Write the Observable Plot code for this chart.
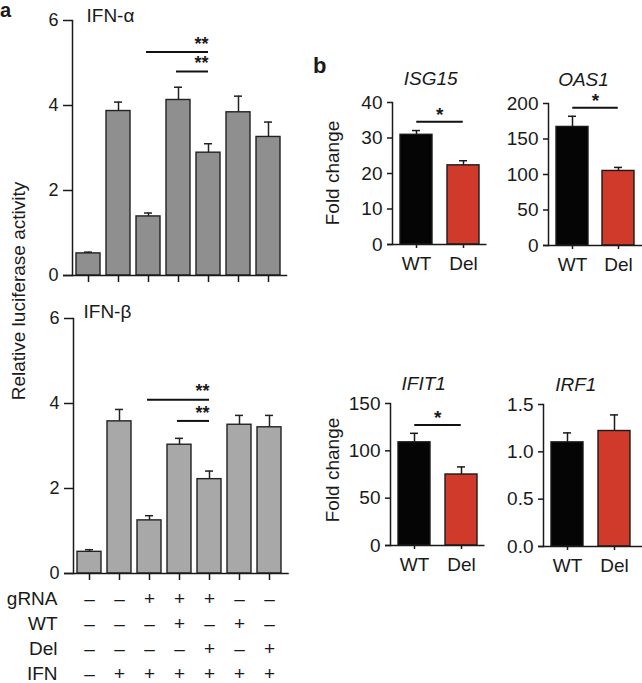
<!DOCTYPE html>
<html><head><meta charset="utf-8">
<script src="https://cdn.jsdelivr.net/npm/d3@7"></script>
<script src="https://cdn.jsdelivr.net/npm/@observablehq/plot@0.6"></script>
<style>
body{margin:0;background:#fff;}
#root{position:relative;width:642px;height:683px;overflow:hidden;font-family:"Liberation Sans",Arial,sans-serif;color:#1a1a1a;}
.abs{position:absolute;}
.lbl{position:absolute;white-space:nowrap;line-height:1;font-family:"Liberation Sans",Arial,sans-serif;color:#1a1a1a;}
.rot{transform:translate(-50%,-50%) rotate(-90deg);}
</style></head><body><div id="root"></div>
<script>
// ---- Panel a data ----
const conditions = ["c1","c2","c3","c4","c5","c6","c7"];
const ifnAlpha    = [0.52, 3.87, 1.39, 4.13, 2.89, 3.84, 3.26];
const ifnAlphaErr = [0.03, 0.21, 0.08, 0.30, 0.21, 0.38, 0.35];
const ifnBeta     = [0.51, 3.58, 1.25, 3.03, 2.22, 3.50, 3.44];
const ifnBetaErr  = [0.05, 0.28, 0.11, 0.15, 0.19, 0.22, 0.28];
const sigFrom = [2, 3];          // index of first compared condition
const sigTo   = [4, 4];          // index of second compared condition
const sigAlphaY = [5.26, 4.80];
const sigBetaY  = [4.09, 3.59];
const sigLabelA = "**";
const yTicksA = [0, 2, 4, 6];
const rowLabels = ["gRNA", "WT", "Del", "IFN"];
const rowGRNA = ["–","–","+","+","+","–","–"];
const rowWT   = ["–","–","–","+","–","+","–"];
const rowDel  = ["–","–","–","–","+","–","+"];
const rowIFN  = ["–","+","+","+","+","+","+"];

// ---- Panel b data ----
const groups = ["WT", "Del"];
const groupColors = ["#050505", "#d03a2b"];
const isg15 = [30.9, 22.3],  isg15Err = [1.2, 1.3];
const oas1  = [167, 105],    oas1Err  = [15, 5];
const ifit1 = [109, 75],     ifit1Err = [9.5, 8];
const irf1  = [1.10, 1.22],  irf1Err  = [0.10, 0.17];
const ticksISG15 = [0, 10, 20, 30, 40];
const ticksOAS1  = [0, 50, 100, 150, 200];
const ticksIFIT1 = [0, 50, 100, 150];
const ticksIRF1  = [0, 0.5, 1.0, 1.5];

const root = document.getElementById("root");
const FONT = "'Liberation Sans', Arial, sans-serif";

function place(node, left, top, width) {
  const d = document.createElement("div");
  d.className = "abs";
  d.style.left = left + "px"; d.style.top = top + "px"; d.style.width = width + "px";
  d.appendChild(node);
  root.appendChild(d);
}
function label(text, left, top, size, extra) {
  const d = document.createElement("div");
  d.className = "lbl";
  d.textContent = text;
  d.style.left = left + "px"; d.style.top = top + "px"; d.style.fontSize = size + "px";
  Object.assign(d.style, extra || {});
  root.appendChild(d);
  return d;
}

const plotStyle = {fontFamily: FONT, fontSize: "18px", color: "#1a1a1a", background: "transparent", overflow: "visible"};

function panelA({values, errs, fill, marginLeft, paddingOuter, step, sigY, title, titleDx, titleDy}) {
  const data = conditions.map((c, i) => ({c, v: values[i], hi: values[i] + errs[i]}));
  const sig = sigFrom.map((f, i) => ({x1: conditions[f], x2: conditions[sigTo[i]], y: sigY[i], t: sigLabelA}));
  const width = 300;
  const rangeW = step * (conditions.length - 0.205 + 2 * paddingOuter);
  return Plot.plot({
    width, height: 290, marginTop: 20, marginBottom: 15, marginLeft,
    marginRight: width - marginLeft - rangeW,
    style: plotStyle,
    x: {domain: conditions, paddingInner: 0.205, paddingOuter, axis: null},
    y: {domain: [0, 6], axis: null},
    marks: [
      Plot.barY(data, {x: "c", y: "v", fill, stroke: "#222", strokeWidth: 1.4}),
      Plot.ruleX(data, {x: "c", y1: "v", y2: "hi", stroke: "#222", strokeWidth: 1.5}),
      Plot.tickY(data, {x: "c", y: "hi", insetLeft: 8, insetRight: 8, stroke: "#222", strokeWidth: 1.5}),
      Plot.ruleY(sig, {x1: "x1", x2: "x2", y: "y", insetLeft: 10, insetRight: 12, stroke: "#111", strokeWidth: 2}),
      Plot.text(sig, {x: "x2", y: "y", text: "t", textAnchor: "end", dy: -8, fontSize: 18, fontWeight: "bold"}),
      Plot.axisY({ticks: yTicksA, tickFormat: "d", tickSize: 9, tickPadding: 5, fontSize: 18, strokeWidth: 1.5, label: null}),
      Plot.axisX({tickSize: 7, tickFormat: () => "", strokeWidth: 1.5, label: null}),
      Plot.frame({anchor: "left", strokeWidth: 1.5}),
      Plot.ruleY([0], {insetLeft: -9, insetRight: -4, strokeWidth: 1.5}),
      Plot.text([title], {frameAnchor: "top-left", textAnchor: "start", lineAnchor: "middle", dx: titleDx, dy: titleDy, fontSize: 19})
    ]
  });
}

function tableA({marginLeft, paddingOuter, step}) {
  const rows = [rowGRNA, rowWT, rowDel, rowIFN];
  const data = [];
  rows.forEach((r, ri) => r.forEach((s, ci) => data.push({row: rowLabels[ri], c: conditions[ci], s})));
  const width = 300;
  const rangeW = step * (conditions.length - 0.205 + 2 * paddingOuter);
  return Plot.plot({
    width, height: 99, marginTop: 13, marginBottom: 8.5, marginLeft,
    marginRight: width - marginLeft - rangeW,
    style: plotStyle,
    x: {domain: conditions, paddingInner: 0.205, paddingOuter, axis: null},
    y: {type: "point", domain: rowLabels, padding: 0, axis: null},
    marks: [
      Plot.text(data, {x: "c", y: "row", text: "s", fontSize: 19}),
      Plot.axisY({tickSize: 0, tickPadding: 16, fontSize: 19, label: null})
    ]
  });
}

function panelB({gene, values, errs, ticks, fmt, width, marginLeft, sigY, titleDx, titleDy, xInsetRight}) {
  const data = groups.map((g, i) => ({g, v: values[i], hi: values[i] + errs[i], f: groupColors[i]}));
  const rangeW = 94.5;
  const marks = [
    Plot.barY(data, {x: "g", y: "v", fill: "f", stroke: "#1a1a1a", strokeWidth: 1.4}),
    Plot.ruleX(data, {x: "g", y1: "v", y2: "hi", stroke: "#1a1a1a", strokeWidth: 1.5}),
    Plot.tickY(data, {x: "g", y: "hi", insetLeft: 12, insetRight: 12, stroke: "#1a1a1a", strokeWidth: 1.5}),
    Plot.axisY({ticks, tickFormat: fmt, tickSize: 5, tickPadding: 5, fontSize: 19, strokeWidth: 1.5, label: null}),
    Plot.axisX({tickSize: 4, tickPadding: 8, fontSize: 19, strokeWidth: 1.5, label: null}),
    Plot.frame({anchor: "left", strokeWidth: 1.5}),
    Plot.ruleY([0], {insetLeft: -5, insetRight: xInsetRight, strokeWidth: 1.5}),
    Plot.text([gene], {frameAnchor: "top", lineAnchor: "middle", dx: titleDx, dy: titleDy, fontStyle: "italic", fontSize: 19})
  ];
  if (sigY != null) {
    marks.push(Plot.ruleY([{y: sigY}], {x1: () => groups[0], x2: () => groups[1], y: "y", insetLeft: 16.25, insetRight: 16.25, stroke: "#111", strokeWidth: 2}));
    marks.push(Plot.text([{y: sigY}], {y: "y", text: () => "*", dy: -7, fontSize: 19, fontWeight: "bold"}));
  }
  return Plot.plot({
    width, height: 220, marginTop: 42, marginBottom: 36, marginLeft,
    marginRight: Math.max(0, width - marginLeft - rangeW),
    style: plotStyle,
    color: {type: "identity"},
    x: {domain: groups, paddingInner: 0.31, paddingOuter: 0.16, axis: null},
    y: {domain: [0, ticks[ticks.length - 1]], axis: null},
    marks
  });
}

// Panel a
place(panelA({values: ifnAlpha, errs: ifnAlphaErr, fill: "#8f8f8f", marginLeft: 72, paddingOuter: 0.1, step: 30.2,
  sigY: sigAlphaY, title: "IFN-α", titleDx: 14, titleDy: -5}), 0, 0, 300);
place(panelA({values: ifnBeta, errs: ifnBetaErr, fill: "#a8a8a8", marginLeft: 73, paddingOuter: 0.12, step: 30.1,
  sigY: sigBetaY, title: "IFN-β", titleDx: 10, titleDy: -7}), 0, 298, 300);
place(tableA({marginLeft: 73, paddingOuter: 0.12, step: 30.1}), 0, 584, 300);

// Panel b
place(panelB({gene: "ISG15", values: isg15, errs: isg15Err, ticks: ticksISG15, fmt: "d", width: 180, marginLeft: 77,
  sigY: 34.6, titleDx: -9, titleDy: -24, xInsetRight: 0}), 315, 60, 180);
place(panelB({gene: "OAS1", values: oas1, errs: oas1Err, ticks: ticksOAS1, fmt: "d", width: 170, marginLeft: 76,
  sigY: 194, titleDx: -12, titleDy: -24, xInsetRight: 0}), 472, 61, 170);
place(panelB({gene: "IFIT1", values: ifit1, errs: ifit1Err, ticks: ticksIFIT1, fmt: "d", width: 180, marginLeft: 77,
  sigY: 127.3, titleDx: -14, titleDy: -20, xInsetRight: 0}), 313, 361, 180);
place(panelB({gene: "IRF1", values: irf1, errs: irf1Err, ticks: ticksIRF1, fmt: ".1f", width: 175, marginLeft: 76,
  sigY: null, titleDx: -15, titleDy: -20, xInsetRight: -5}), 467, 362, 175);

// Labels
label("a", 0, 0, 20, {fontWeight: "bold"});
label("b", 313, 55, 22, {fontWeight: "bold"});
label("Relative luciferase activity", 18, 291, 19, {}).classList.add("rot");
label("Fold change", 332, 173, 19, {}).classList.add("rot");
label("Fold change", 332, 470, 19, {}).classList.add("rot");
</script>
</body></html>
